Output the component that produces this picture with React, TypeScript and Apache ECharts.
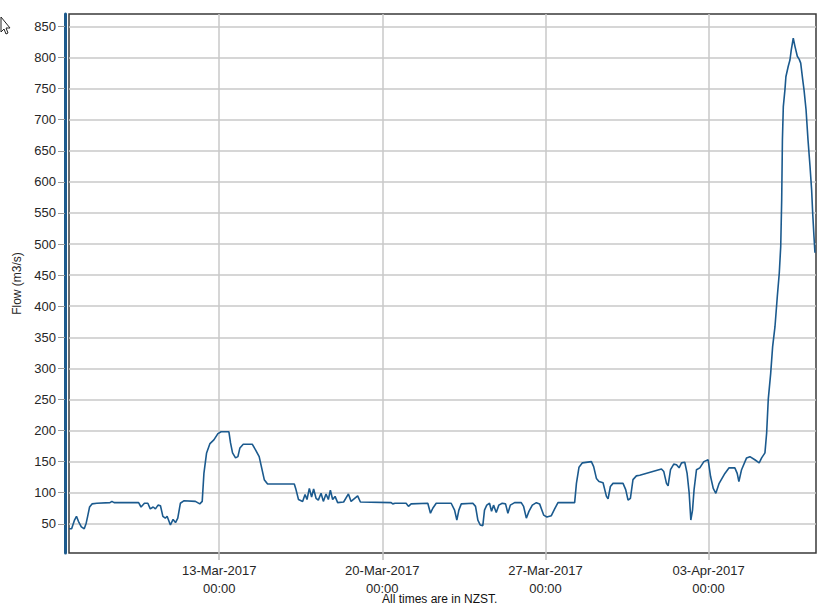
import React, { useEffect, useRef } from "react";
import * as echarts from "echarts";

const times: string[] = [
  "2017-03-06 13:20", "2017-03-06 16:00", "2017-03-06 19:00", "2017-03-06 21:00", "2017-03-06 23:00",
  "2017-03-07 02:00", "2017-03-07 05:00", "2017-03-07 07:00", "2017-03-07 08:30", "2017-03-07 10:30",
  "2017-03-07 13:00", "2017-03-07 18:00", "2017-03-08 07:30", "2017-03-08 09:30", "2017-03-08 11:45",
  "2017-03-09 13:00", "2017-03-09 15:30", "2017-03-09 19:00", "2017-03-09 22:30", "2017-03-10 01:00",
  "2017-03-10 04:00", "2017-03-10 06:20", "2017-03-10 09:00", "2017-03-10 11:30", "2017-03-10 14:00",
  "2017-03-10 16:30", "2017-03-10 18:20", "2017-03-10 21:45", "2017-03-11 00:30", "2017-03-11 03:00",
  "2017-03-11 05:20", "2017-03-11 08:00", "2017-03-11 11:30", "2017-03-11 23:30", "2017-03-12 04:00",
  "2017-03-12 06:30", "2017-03-12 08:15", "2017-03-12 11:00", "2017-03-12 14:30", "2017-03-12 18:30",
  "2017-03-12 22:40", "2017-03-13 02:00", "2017-03-13 10:00", "2017-03-13 11:40", "2017-03-13 13:45",
  "2017-03-13 16:50", "2017-03-13 19:15", "2017-03-13 21:20", "2017-03-14 00:45", "2017-03-14 10:00",
  "2017-03-14 13:25", "2017-03-14 17:10", "2017-03-14 22:25", "2017-03-15 01:50", "2017-03-16 05:20",
  "2017-03-16 07:05", "2017-03-16 09:40", "2017-03-16 13:55", "2017-03-16 16:25", "2017-03-16 18:25",
  "2017-03-16 20:50", "2017-03-16 23:10", "2017-03-17 01:15", "2017-03-17 03:45", "2017-03-17 06:05",
  "2017-03-17 08:55", "2017-03-17 11:15", "2017-03-17 14:00", "2017-03-17 16:25", "2017-03-17 18:30",
  "2017-03-17 20:50", "2017-03-17 23:20", "2017-03-18 02:00", "2017-03-18 08:10", "2017-03-18 13:05",
  "2017-03-18 15:50", "2017-03-18 22:35", "2017-03-19 01:25", "2017-03-20 09:05", "2017-03-20 10:45",
  "2017-03-20 13:10", "2017-03-21 00:30", "2017-03-21 02:55", "2017-03-21 05:40", "2017-03-21 22:50",
  "2017-03-22 01:35", "2017-03-22 04:00", "2017-03-22 07:30", "2017-03-22 22:55", "2017-03-23 02:25",
  "2017-03-23 04:45", "2017-03-23 06:50", "2017-03-23 09:20", "2017-03-23 21:15", "2017-03-24 00:00",
  "2017-03-24 02:25", "2017-03-24 04:50", "2017-03-24 07:30", "2017-03-24 09:15", "2017-03-24 11:35",
  "2017-03-24 14:25", "2017-03-24 16:30", "2017-03-24 18:35", "2017-03-24 21:20", "2017-03-25 00:00",
  "2017-03-25 03:30", "2017-03-25 06:55", "2017-03-25 09:20", "2017-03-25 11:50", "2017-03-25 16:15",
  "2017-03-25 23:05", "2017-03-26 01:30", "2017-03-26 04:20", "2017-03-26 07:00", "2017-03-26 10:30",
  "2017-03-26 14:40", "2017-03-26 18:00", "2017-03-26 22:10", "2017-03-27 01:30", "2017-03-27 06:05",
  "2017-03-27 09:30", "2017-03-27 12:55", "2017-03-28 06:05", "2017-03-28 07:55", "2017-03-28 10:35",
  "2017-03-28 14:05", "2017-03-28 23:20", "2017-03-29 01:40", "2017-03-29 04:30", "2017-03-29 07:10",
  "2017-03-29 11:20", "2017-03-29 14:50", "2017-03-29 16:30", "2017-03-29 18:55", "2017-03-29 21:35",
  "2017-03-30 07:55", "2017-03-30 10:40", "2017-03-30 13:05", "2017-03-30 15:30", "2017-03-30 18:10",
  "2017-03-30 21:40", "2017-03-31 01:10", "2017-03-31 23:30", "2017-04-01 01:55", "2017-04-01 04:40",
  "2017-04-01 06:20", "2017-04-01 08:50", "2017-04-01 12:10", "2017-04-01 15:00", "2017-04-01 17:40",
  "2017-04-01 20:10", "2017-04-01 23:30", "2017-04-02 01:55", "2017-04-02 04:00", "2017-04-02 05:45",
  "2017-04-02 07:30", "2017-04-02 09:05", "2017-04-02 11:35", "2017-04-02 15:00", "2017-04-02 19:10",
  "2017-04-02 23:35", "2017-04-03 02:05", "2017-04-03 04:50", "2017-04-03 07:30", "2017-04-03 10:55",
  "2017-04-03 16:50", "2017-04-03 21:10", "2017-04-04 03:05", "2017-04-04 05:30", "2017-04-04 07:15",
  "2017-04-04 10:00", "2017-04-04 15:10", "2017-04-04 18:35", "2017-04-04 23:40", "2017-04-05 04:10",
  "2017-04-05 06:40", "2017-04-05 10:05", "2017-04-05 11:50", "2017-04-05 13:30", "2017-04-05 16:00",
  "2017-04-05 18:00", "2017-04-05 20:25", "2017-04-05 22:50", "2017-04-06 00:50", "2017-04-06 02:20",
  "2017-04-06 03:20", "2017-04-06 04:05", "2017-04-06 05:00", "2017-04-06 06:40", "2017-04-06 07:40",
  "2017-04-06 10:05", "2017-04-06 11:50", "2017-04-06 13:10", "2017-04-06 15:15", "2017-04-06 17:00",
  "2017-04-06 19:25", "2017-04-06 21:25", "2017-04-06 22:55", "2017-04-07 01:00", "2017-04-07 02:20",
  "2017-04-07 04:25", "2017-04-07 06:25", "2017-04-07 08:30", "2017-04-07 10:10", "2017-04-07 11:15",
  "2017-04-07 12:35", "2017-04-07 13:35",
];

const flows: number[] = [
  42, 42, 56, 62, 54,
  45, 42, 51, 62, 77,
  82, 83, 84, 86, 84,
  84, 77, 83, 83, 74,
  77, 74, 80, 79, 62,
  59, 62, 48, 57, 52,
  59, 83, 87, 86, 82,
  86, 131, 164, 179, 185,
  195, 198, 198, 180, 164,
  156, 158, 172, 178, 178,
  169, 158, 121, 114, 114,
  105, 89, 86, 97, 89,
  107, 93, 106, 91, 88,
  99, 86, 98, 89, 104,
  89, 94, 84, 85, 98,
  86, 95, 85, 84, 82,
  83, 83, 78, 82, 83,
  67, 75, 83, 83, 72,
  56, 72, 82, 83, 78,
  56, 48, 47, 72, 80,
  83, 70, 80, 68, 80,
  83, 82, 67, 80, 84,
  84, 78, 59, 70, 80,
  84, 82, 64, 61, 63,
  74, 84, 84, 115, 141,
  148, 150, 142, 123, 118,
  116, 94, 90, 110, 115,
  115, 105, 88, 91, 121,
  127, 128, 138, 134, 115,
  111, 137, 146, 145, 140,
  148, 149, 131, 100, 56,
  72, 105, 137, 140, 150,
  153, 126, 107, 99, 115,
  131, 140, 140, 131, 118,
  137, 156, 158, 153, 148,
  156, 164, 196, 250, 292,
  335, 367, 416, 453, 496,
  571, 668, 721, 748, 769,
  786, 796, 812, 831, 818,
  802, 797, 791, 764, 748,
  716, 668, 625, 587, 550,
  512, 486,
];

const xTickDates: string[] = ["2017-03-13 00:00", "2017-03-20 00:00", "2017-03-27 00:00", "2017-04-03 00:00"];
const yTicks: number[] = [50, 100, 150, 200, 250, 300, 350, 400, 450, 500, 550, 600, 650, 700, 750, 800, 850];
const xRange: string[] = ["2017-03-06 13:18", "2017-04-07 14:40"];
const yRange: number[] = [3, 870];
const yAxisTitle = "Flow (m3/s)";
const footerText = "All times are in NZST.";

const MONTHS = ["Jan", "Feb", "Mar", "Apr", "May", "Jun", "Jul", "Aug", "Sep", "Oct", "Nov", "Dec"];

function toMs(s: string): number {
  const [d, t] = s.split(" ");
  const [y, m, dd] = d.split("-").map(Number);
  const [hh, mm] = t.split(":").map(Number);
  return Date.UTC(y, m - 1, dd, hh, mm);
}

function fmt(v: number): string {
  const d = new Date(v);
  const dd = String(d.getUTCDate()).padStart(2, "0");
  const hh = String(d.getUTCHours()).padStart(2, "0");
  const mi = String(d.getUTCMinutes()).padStart(2, "0");
  return `${dd}-${MONTHS[d.getUTCMonth()]}-${d.getUTCFullYear()}\n${hh}:${mi}`;
}

export default function App() {
  const ref = useRef<HTMLDivElement>(null);
  useEffect(() => {
    if (!ref.current) return;
    const chart = echarts.init(ref.current, undefined, { renderer: "svg" });
    const font = "'Liberation Sans', Arial, sans-serif";
    const data = times.map((t, i) => [toMs(t), flows[i]]);
    chart.setOption({
      animation: false,
      backgroundColor: "#ffffff",
      grid: {
        left: 69,
        top: 14,
        right: 6,
        bottom: 59,
        show: true,
        borderColor: "#3a3a3a",
        borderWidth: 1.5,
        backgroundColor: "transparent",
      },
      xAxis: {
        type: "value",
        min: toMs(xRange[0]),
        max: toMs(xRange[1]),
        axisLine: { show: false },
        axisTick: {
          show: true,
          length: 7,
          customValues: xTickDates.map(toMs),
          lineStyle: { color: "#bdbdbd", width: 1.5 },
        },
        axisLabel: {
          customValues: xTickDates.map(toMs),
          formatter: (v: number) => fmt(v),
          color: "#262626",
          fontSize: 13,
          fontFamily: font,
          lineHeight: 18,
          margin: 8,
        },
        splitLine: { show: true, lineStyle: { color: "#c8c8c8", width: 1.5 } },
      },
      yAxis: {
        type: "value",
        min: yRange[0],
        max: yRange[1],
        offset: 4,
        name: yAxisTitle,
        nameLocation: "middle",
        nameGap: 42,
        nameTextStyle: { color: "#262626", fontSize: 12, fontFamily: font },
        axisLine: { show: true, lineStyle: { color: "#1d5a8c", width: 3 } },
        axisTick: {
          show: true,
          length: 7,
          customValues: yTicks,
          lineStyle: { color: "#9a9a9a", width: 1 },
        },
        axisLabel: {
          customValues: yTicks,
          color: "#262626",
          fontSize: 13,
          fontFamily: font,
          margin: 9,
        },
        splitLine: { show: true, lineStyle: { color: "#c8c8c8", width: 1.5 } },
      },
      series: [
        {
          type: "line",
          data,
          showSymbol: false,
          clip: true,
          lineStyle: { color: "#1b5a8e", width: 1.6 },
          itemStyle: { color: "#1b5a8e" },
        },
      ],
      graphic: [
        {
          type: "text",
          left: 382,
          top: 593,
          style: { text: footerText, fill: "#111", fontSize: 12, fontFamily: font },
        },
        {
          type: "polygon",
          shape: { points: [[1, 17], [1, 32], [4, 29], [6, 34], [8, 33], [6, 28], [10, 28]] },
          style: { fill: "#fff", stroke: "#222", lineWidth: 1 },
        },
      ],
    });
    return () => chart.dispose();
  }, []);
  return (
    <div
      ref={ref}
      style={{ position: "fixed", left: 0, top: 0, width: 822, height: 612 }}
    />
  );
}
